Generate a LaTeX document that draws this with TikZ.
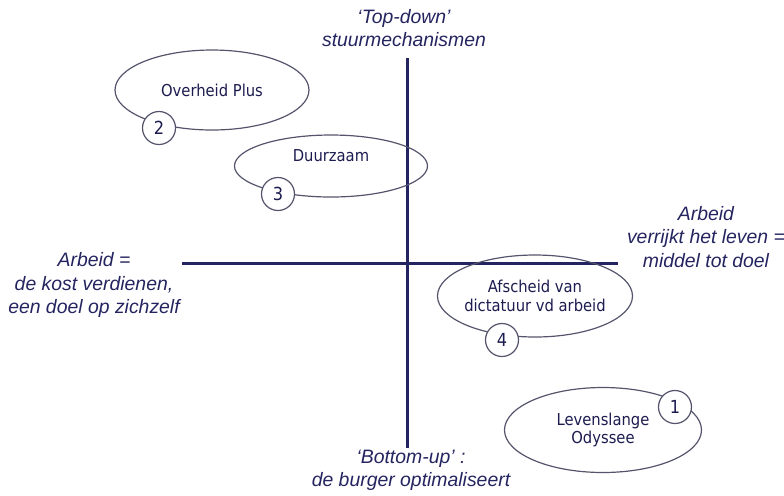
\documentclass[tikz,border=0pt]{standalone}
\usepackage{fontspec}
\usepackage{tikz}
\usetikzlibrary{shapes.geometric}
\newfontfamily\axisfont{Liberation Sans}
\newfontfamily\ovalfont{DejaVu Sans Condensed}
\definecolor{navy}{RGB}{36,36,96}
\definecolor{ink}{RGB}{28,28,80}
\definecolor{rim}{RGB}{84,84,108}

\begin{document}
\begin{tikzpicture}[x=0.5pt, y=-0.5pt,
axis/.style={line width=1.5pt, navy},
oval/.style={ellipse, draw=rim, line width=0.6pt, inner sep=-2pt, align=center, text=ink, font=\ovalfont\fontsize{8.2}{9.4}\selectfont},
num/.style={circle, draw=rim, fill=white, line width=0.6pt, minimum size=16.5pt, inner sep=0pt, text=ink, font=\ovalfont\fontsize{9}{10}\selectfont},
pole/.style={align=center, text=navy, font=\axisfont\itshape\fontsize{9.7}{11.6}\selectfont}
]
\useasboundingbox (0,0) rectangle (784,495);

% axes
\coordinate (top) at (407,58);
\coordinate (bot) at (407,448);
\coordinate (lft) at (182,263);
\coordinate (rgt) at (618,263);
\draw[axis] (top) -- (bot);
\draw[axis] (lft) -- (rgt);

% poles
\node[pole] (topdown) at (404,28) {‘Top-down’\\stuurmechanismen};
\node[pole] (bottomup) at (411,470) {‘Bottom-up’ :\\de burger optimaliseert};
\node[pole] (kost) at (94,285) {Arbeid =\\de kost verdienen,\\een doel op zichzelf};
\node[pole] (verrijkt) at (706,237) {Arbeid\\verrijkt het leven =\\middel tot doel};

% scenarios
\node[oval, minimum width=97pt, minimum height=40pt] (overheid) at (212,90) {Overheid Plus};
\node[oval, minimum width=96.5pt, minimum height=31pt] (duurzaam) at (331,166) {\raisebox{10pt}{Duurzaam}};
\node[oval, minimum width=97.5pt, minimum height=41pt] (afscheid) at (535,296) {Afscheid van\\dictatuur vd arbeid};
\node[oval, minimum width=98.5pt, minimum height=42.5pt] (odyssee) at (603,430) {Levenslange\\Odyssee};

\node[num] (n2) at (159,128) {2};
\node[num] (n3) at (278,194) {3};
\node[num] (n4) at (502,340) {4};
\node[num] (n1) at (675,407) {1};
\end{tikzpicture}
\end{document}
